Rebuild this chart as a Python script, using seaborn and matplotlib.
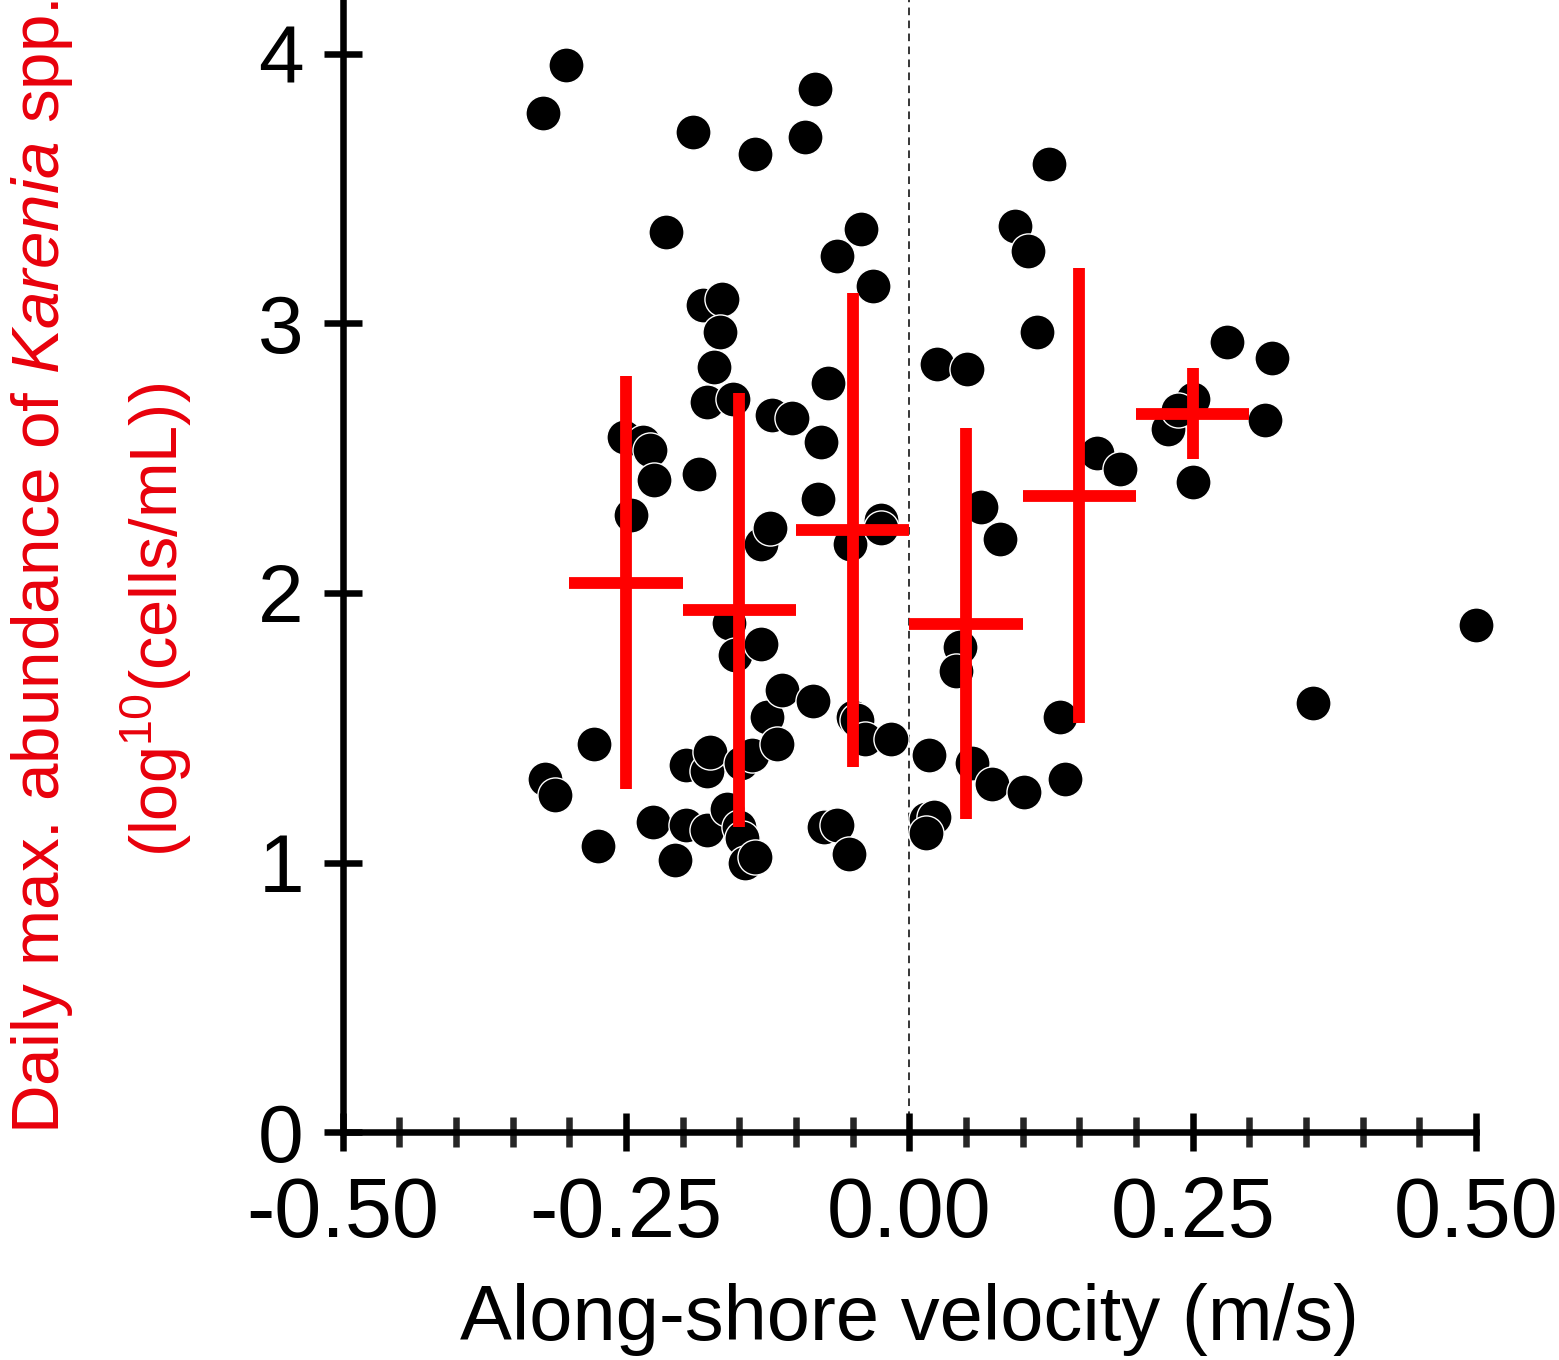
import numpy as np
import pandas as pd
import seaborn as sns
import matplotlib
matplotlib.use("Agg")
import matplotlib.pyplot as plt
from matplotlib.ticker import MultipleLocator, FormatStrFormatter

# daily observations: along-shore velocity vs log10 abundance
velocity = [
    -0.323, -0.303, -0.322, -0.313, -0.278, -0.275, -0.252, -0.235, -0.229, -0.225,
    -0.246, -0.226, -0.215, -0.207, -0.197, -0.197, -0.191, -0.186, -0.182, -0.165,
    -0.167, -0.172, -0.179, -0.156, -0.179, -0.176, -0.179, -0.161, -0.150, -0.148,
    -0.145, -0.149, -0.139, -0.159, -0.154, -0.131, -0.131, -0.123, -0.136, -0.121,
    -0.104, -0.126, -0.117, -0.112, -0.092, -0.083, -0.085, -0.064, -0.043, -0.032,
    -0.072, -0.078, -0.081, -0.052, -0.025, -0.025, -0.075, -0.064, -0.053, -0.050,
    -0.046, -0.039, -0.016, 0.017, 0.015, 0.022, 0.015, 0.024, 0.051, 0.045,
    0.041, 0.055, 0.063, 0.080, 0.073, 0.101, 0.093, 0.105, 0.123, 0.113,
    0.133, 0.137, 0.166, 0.186, 0.228, 0.250, 0.250, 0.280, 0.314, 0.320,
    0.356, 0.500, 0.237, -0.136,
]
abundance = [
    3.78, 3.96, 1.31, 1.25, 1.44, 1.06, 2.58, 2.56, 2.53, 2.42,
    2.29, 1.15, 3.34, 1.01, 1.14, 1.36, 3.71, 2.44, 3.07, 3.09,
    2.97, 2.84, 2.71, 2.72, 1.34, 1.41, 1.12, 1.20, 1.13, 1.09,
    1.00, 1.37, 1.40, 1.89, 1.77, 1.81, 2.18, 2.24, 3.63, 2.66,
    2.65, 1.54, 1.44, 1.64, 3.69, 3.87, 1.60, 3.25, 3.35, 3.14,
    2.78, 2.56, 2.35, 2.18, 2.27, 2.24, 1.13, 1.14, 1.03, 1.54,
    1.53, 1.46, 1.46, 1.40, 1.16, 1.17, 1.11, 2.85, 2.83, 1.80,
    1.71, 1.37, 2.32, 2.20, 1.29, 1.26, 3.36, 3.27, 3.59, 2.97,
    1.54, 1.31, 2.52, 2.46, 2.61, 2.72, 2.41, 2.93, 2.64, 2.87,
    1.59, 1.88, 2.68, 1.02,
]

# binned means and standard deviations
bin_centers = [-0.25, -0.15, -0.05, 0.05, 0.15, 0.25]
bin_means = [2.038, 1.936, 2.235, 1.886, 2.361, 2.665]
bin_sd = [0.766, 0.805, 0.879, 0.725, 0.843, 0.169]
bin_halfwidth = 0.05

df = pd.DataFrame({"velocity": velocity, "abundance": abundance})

sns.set_style("ticks")
plt.rcParams["font.family"] = ["Liberation Sans", "DejaVu Sans"]
plt.rcParams["mathtext.fontset"] = "custom"
plt.rcParams["mathtext.rm"] = "Liberation Sans"
plt.rcParams["mathtext.it"] = "Liberation Sans:italic"
plt.rcParams["axes.unicode_minus"] = False

fig = plt.figure(figsize=(15.59, 13.6), dpi=100)
ax = fig.add_axes([0.2199, 0.1676, 0.7268, 0.8324])

ax.axvline(0, color="black", lw=1.1, ls=(0, (5, 3.5)), zorder=1)

sns.scatterplot(data=df, x="velocity", y="abundance", ax=ax, s=640,
                color="black", edgecolor="white", linewidth=1.0, zorder=2,
                clip_on=False)

ax.errorbar(bin_centers, bin_means, xerr=bin_halfwidth, yerr=bin_sd,
            fmt="none", ecolor="#ff0000", elinewidth=8.5, capsize=0, zorder=3)

ax.set_xlim(-0.5, 0.5)
ax.set_ylim(0, 4.2)
ax.xaxis.set_major_locator(MultipleLocator(0.25))
ax.xaxis.set_minor_locator(MultipleLocator(0.05))
ax.xaxis.set_major_formatter(FormatStrFormatter("%.2f"))
ax.set_yticks([0, 1, 2, 3, 4])

for side in ["top", "right"]:
    ax.spines[side].set_visible(False)
for side in ["left", "bottom"]:
    ax.spines[side].set_linewidth(4.7)
    ax.spines[side].set_color("black")
    ax.spines[side].set_zorder(4)

ax.tick_params(axis="x", which="major", direction="inout", length=28, width=4.7,
               labelsize=61, pad=17, colors="black")
ax.tick_params(axis="x", which="minor", direction="inout", length=21, width=4.7)
ax.tick_params(axis="y", which="major", direction="inout", length=28, width=4.7,
               labelsize=59, pad=14, colors="black")

ax.set_xlabel("Along-shore velocity (m/s)", fontsize=56, labelpad=20, color="black")
ax.set_ylabel("")

fig.text(0.027, 0.583, r"Daily max. abundance of $\mathit{Karenia}$ spp.",
         rotation=90, ha="center", va="center", fontsize=48.5, color="#e8000b")
fig.text(0.100, 0.544, r"(log$^{10}$(cells/mL))",
         rotation=90, ha="center", va="center", fontsize=48, color="#e8000b")

fig.savefig("out.png", dpi=100, facecolor="white")
